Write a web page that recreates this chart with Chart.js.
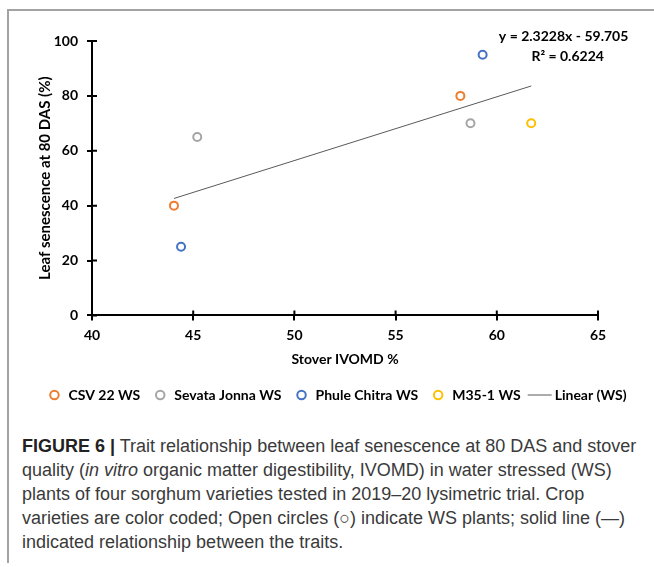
<!DOCTYPE html>
<html>
<head>
<meta charset="utf-8">
<script src="https://cdn.jsdelivr.net/npm/chart.js@4.4.1/dist/chart.umd.min.js"></script>
<style>
  html, body { margin: 0; background: #fff; overflow: hidden; }
  #frame {
    position: absolute; left: 7px; top: 9px; width: 647px; height: 552px;
    border-left: 2px solid #a3a3a3; border-top: 2px solid #a3a3a3;
  }
  #chartBox { position: absolute; left: 9px; top: 11px; width: 656px; height: 409px; }
  #caption {
    position: absolute; left: 22px; top: 434px;
    font-family: "Liberation Sans", Arial, sans-serif; font-size: 18px;
    line-height: 24px; color: #3a3a3a; white-space: nowrap;
  }
  #caption b { color: #222; }
</style>
</head>
<body>
<div id="frame"></div>
<div id="chartBox"><canvas id="chart"></canvas></div>
<div id="caption">
  <b>FIGURE 6 |</b> Trait relationship between leaf senescence at 80 DAS and stover<br>
  quality (<i>in vitro</i> organic matter digestibility, IVOMD) in water stressed (WS)<br>
  plants of four sorghum varieties tested in 2019–20 lysimetric trial. Crop<br>
  varieties are color coded; Open circles (○) indicate WS plants; solid line (—)<br>
  indicated relationship between the traits.
</div>
<script>
// values (x = stover IVOMD %, y = leaf senescence %)
const csv22 = [{ x: 44.05, y: 40 }, { x: 58.2, y: 80 }];
const sevataJonna = [{ x: 45.2, y: 65 }, { x: 58.7, y: 70 }];
const phuleChitra = [{ x: 44.4, y: 25 }, { x: 59.3, y: 95 }];
const m351 = [{ x: 61.7, y: 70 }];

// Excel trendline as printed on the chart
const slope = 2.3228;
const intercept = -59.705;
const equationText = 'y = 2.3228x - 59.705';
const r2Text = 'R\u00b2 = 0.6224';

const xTicks = [40, 45, 50, 55, 60, 65];
const yTicks = [0, 20, 40, 60, 80, 100];

const allX = [...csv22, ...sevataJonna, ...phuleChitra, ...m351].map(p => p.x);
const xLo = Math.min(...allX), xHi = Math.max(...allX);
const trend = [{ x: xLo, y: slope * xLo + intercept }, { x: xHi, y: slope * xHi + intercept }];

const font = 'Lato, "Open Sans", sans-serif';

function pointSet(label, data, color) {
    return {
        label, data,
        borderColor: color, backgroundColor: '#fff',
        pointRadius: 4, pointHoverRadius: 4, borderWidth: 2, pointStyle: 'circle'
    };
}

// longer line swatch for the trendline legend entry
const lineIcon = document.createElement('canvas');
lineIcon.width = 40;
lineIcon.height = 3;
const lctx = lineIcon.getContext('2d');
lctx.fillStyle = '#595959';
lctx.fillRect(7, 1, 24, 1);

// tick marks in the reference cross the axis; chart.js only draws the outer half
const crossTicks = {
    id: 'crossTicks',
    afterDraw(chart) {
        const { ctx, scales: { x, y } } = chart;
        ctx.save();
        ctx.strokeStyle = '#000';
        ctx.lineWidth = 2;
        ctx.beginPath();
        yTicks.forEach(v => {
            const py = y.getPixelForValue(v);
            ctx.moveTo(x.left, py); ctx.lineTo(x.left + 5, py);
        });
        xTicks.forEach(v => {
            const px = x.getPixelForValue(v);
            ctx.moveTo(px, y.bottom); ctx.lineTo(px, y.bottom - 5);
        });
        ctx.stroke();
        ctx.restore();
    }
};

const equationLabel = {
    id: 'equationLabel',
    afterDatasetsDraw(chart) {
        const { ctx, scales: { x, y } } = chart;
        ctx.save();
        ctx.fillStyle = '#000';
        ctx.font = 'bold 14px ' + font;
        ctx.textAlign = 'center';
        ctx.textBaseline = 'middle';
        ctx.fillText(equationText, x.getPixelForValue(63.3), y.getPixelForValue(101.8));
        ctx.fillText(r2Text, x.getPixelForValue(63.5), y.getPixelForValue(94.5));
        ctx.restore();
    }
};

new Chart(document.getElementById('chart'), {
    type: 'scatter',
    data: {
        datasets: [
            pointSet('CSV 22 WS', csv22, '#ED7D31'),
            pointSet('Sevata Jonna WS', sevataJonna, '#A5A5A5'),
            pointSet('Phule Chitra WS', phuleChitra, '#4472C4'),
            pointSet('M35-1 WS', m351, '#FFC000'),
            {
                label: 'Linear (WS)', data: trend, type: 'line', showLine: true,
                borderColor: '#595959', backgroundColor: '#595959', borderWidth: 1,
                pointRadius: 0, pointStyle: lineIcon
            }
        ]
    },
    options: {
        responsive: true,
        maintainAspectRatio: false,
        animation: false,
        layout: { padding: { top: 30, right: 0, left: 0, bottom: 8 } },
        plugins: {
            tooltip: { enabled: false },
            legend: {
                position: 'bottom',
                labels: {
                    usePointStyle: true, boxHeight: 6,
                    padding: 13, color: '#000',
                    font: { family: font, size: 14, weight: 'bold' }
                }
            }
        },
        scales: {
            x: {
                type: 'linear', min: 40, max: 65,
                afterBuildTicks: s => { s.ticks = xTicks.map(v => ({ value: v })); },
                afterFit: s => { s.paddingRight = 67; },
                ticks: { padding: 7, color: '#000', font: { family: font, size: 14, weight: 'bold' } },
                grid: { drawOnChartArea: false, tickLength: 5, color: '#000', lineWidth: 2 },
                border: { color: '#000', width: 2 },
                title: {
                    display: true, text: 'Stover IVOMD %', color: '#000',
                    padding: { top: 0, bottom: 7 },
                    font: { family: font, size: 14, weight: 'bold' }
                }
            },
            y: {
                min: 0, max: 100,
                afterBuildTicks: s => { s.ticks = yTicks.map(v => ({ value: v })); },
                afterFit: s => { s.width = 83; },
                ticks: { padding: 9, color: '#000', font: { family: font, size: 14, weight: 'bold' } },
                grid: { drawOnChartArea: false, tickLength: 5, color: '#000', lineWidth: 2 },
                border: { color: '#000', width: 2 },
                title: {
                    display: true, text: 'Leaf senescence at 80 DAS (%)', color: '#000',
                    padding: { top: 27, bottom: 0 },
                    font: { family: font, size: 15, weight: 'bold' }
                }
            }
        }
    },
    plugins: [crossTicks, equationLabel]
});
</script>
</body>
</html>
